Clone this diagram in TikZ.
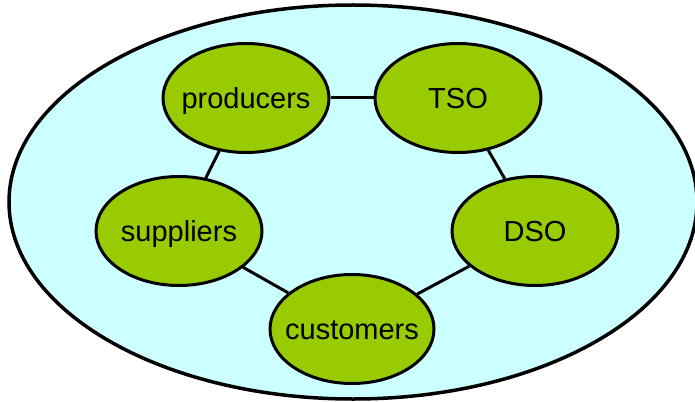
\documentclass[tikz,border=0pt]{standalone}
\usepackage{fontspec}
\setmainfont{Liberation Sans}
\usetikzlibrary{shapes.geometric}
\definecolor{poolfill}{HTML}{CCFFFF}
\definecolor{actorfill}{HTML}{99CC00}
% label of fixed (zero) width, so the ellipse keeps its own size
\newcommand{\actorlabel}[1]{\makebox[0pt]{#1}}
\begin{document}
\begin{tikzpicture}[x=1pt,y=-1pt,
  actor/.style={ellipse, draw=black, line width=3pt, fill=actorfill,
    minimum width=166pt, minimum height=109pt, inner sep=0pt,
    text height=20pt, text depth=0pt,
    font=\fontsize{29}{33}\selectfont},
  link/.style={draw=black, line width=3pt}]
  \useasboundingbox (0,0) rectangle (695,401);
  % market environment
  \draw[line width=3.5pt, fill=poolfill] (353,202) ellipse [x radius=344, y radius=197];
  % market actors
  \node[actor] (prod) at (246,98) {\actorlabel{producers}};
  \node[actor] (tso)  at (458,98) {\actorlabel{TSO}};
  \node[actor] (supp) at (179,231) {\actorlabel{suppliers}};
  \node[actor] (dso)  at (535,231) {\actorlabel{DSO}};
  \node[actor, minimum width=164pt] (cust) at (352,329) {\actorlabel{customers}};
  % relations
  \path[link] (prod) -- (tso);
  \path[link] (prod) -- (supp);
  \path[link] (tso) -- (dso);
  \path[link] (supp) -- (cust);
  \path[link] (dso) -- (cust);
\end{tikzpicture}
\end{document}
